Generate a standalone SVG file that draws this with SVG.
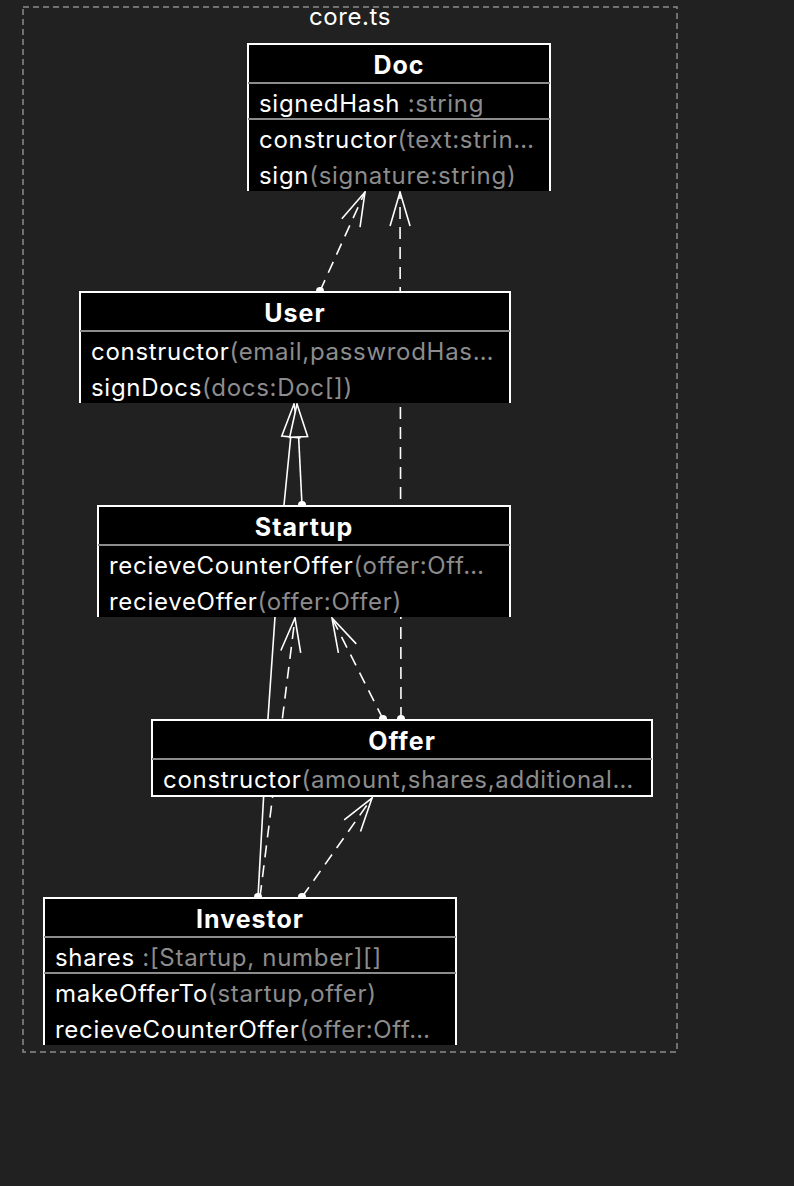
<svg xmlns="http://www.w3.org/2000/svg" width="794" height="1186" viewBox="0 0 794 1186">
<style>
  .bg{fill:#212121}
  .frame{fill:none;stroke:#8c8c8c;stroke-width:1.5;stroke-dasharray:6,4}
  .box{fill:#000}
  .bd{fill:none;stroke:#fff;stroke-width:2}
  .sep{stroke:#8c8c8c;stroke-width:2}
  text{font-family:"Inter","Noto Sans",sans-serif;font-size:24px;letter-spacing:0.7px;fill:#fff}
  .title{font-weight:bold;font-size:25px;letter-spacing:1px;text-anchor:middle}
  .g{fill:#8c8c8c}
  .lbl{font-size:24px;letter-spacing:0.6px;text-anchor:middle}
  .dash{fill:none;stroke:#fff;stroke-width:1.6;stroke-dasharray:12,8}
  .solid{fill:none;stroke:#fff;stroke-width:1.6}
  .dot{fill:#fff}
</style>
<defs>
  <marker id="open" markerUnits="userSpaceOnUse" markerWidth="40" markerHeight="30" viewBox="-36 -15 40 30" refX="0" refY="0" orient="auto">
    <path d="M-34,-10 L0,0 L-34,10" fill="none" stroke="#fff" stroke-width="1.6" stroke-dasharray="none"/>
  </marker>
  <marker id="tri" markerUnits="userSpaceOnUse" markerWidth="40" markerHeight="30" viewBox="-36 -15 40 30" refX="0" refY="0" orient="auto">
    <path d="M-33,-9 L0,0 L-33,9 Z" fill="#212121" stroke="#fff" stroke-width="1.6" stroke-dasharray="none"/>
  </marker>
</defs>
<rect class="bg" x="0" y="0" width="794" height="1186"/>
<rect class="frame" x="23" y="7" width="654" height="1045"/>
<text class="lbl" x="350" y="25">core.ts</text>

<g id="connectors">
  <line class="dash" x1="320" y1="291" x2="365" y2="192" marker-end="url(#open)"/>
  <circle class="dot" cx="320" cy="291" r="4"/>
  <line class="dash" x1="401" y1="719" x2="400" y2="192" marker-end="url(#open)"/>
  <circle class="dot" cx="401" cy="719" r="4"/>
  <line class="dash" x1="383" y1="719" x2="332" y2="618" marker-end="url(#open)"/>
  <circle class="dot" cx="383" cy="719" r="4"/>
  <line class="dash" x1="260" y1="897" x2="295" y2="618" marker-end="url(#open)"/>
  <line class="dash" x1="302" y1="897" x2="372" y2="798" marker-end="url(#open)"/>
  <circle class="dot" cx="302" cy="897" r="4"/>
  <polyline class="solid" points="258,897 268,718 275,617 284,505 294,404" marker-end="url(#tri)"/>
  <circle class="dot" cx="258" cy="897" r="4"/>
  <line class="solid" x1="302" y1="505" x2="297" y2="404" marker-end="url(#tri)"/>
  <circle class="dot" cx="302" cy="505" r="4"/>
</g>

<g id="Doc">
  <rect class="box" x="247" y="43" width="304" height="148"/>
  <path class="bd" d="M248,191 V44 H550 V191"/>
  <line class="sep" x1="248" y1="83" x2="550" y2="83"/>
  <line class="sep" x1="248" y1="119" x2="550" y2="119"/>
  <text class="title" x="399" y="74">Doc</text>
  <text x="259" y="112">signedHash<tspan class="g"> :string</tspan></text>
  <text x="259" y="148">constructor<tspan class="g">(text:strin…</tspan></text>
  <text x="259" y="184">sign<tspan class="g">(signature:string)</tspan></text>
</g>

<g id="User">
  <rect class="box" x="79" y="291" width="432" height="112"/>
  <path class="bd" d="M80,403 V292 H510 V403"/>
  <line class="sep" x1="80" y1="331" x2="510" y2="331"/>
  <text class="title" x="295" y="322">User</text>
  <text x="91" y="360">constructor<tspan class="g">(email,passwrodHas…</tspan></text>
  <text x="91" y="396">signDocs<tspan class="g">(docs:Doc[])</tspan></text>
</g>

<g id="Startup">
  <rect class="box" x="97" y="505" width="414" height="112"/>
  <path class="bd" d="M98,617 V506 H510 V617"/>
  <line class="sep" x1="98" y1="545" x2="510" y2="545"/>
  <text class="title" x="304" y="536">Startup</text>
  <text x="109" y="574">recieveCounterOffer<tspan class="g">(offer:Off…</tspan></text>
  <text x="109" y="610">recieveOffer<tspan class="g">(offer:Offer)</tspan></text>
</g>

<g id="Offer">
  <rect class="box" x="151" y="719" width="502" height="78"/>
  <rect class="bd" x="152" y="720" width="500" height="76"/>
  <line class="sep" x1="152" y1="759" x2="652" y2="759"/>
  <text class="title" x="402" y="750">Offer</text>
  <text x="163" y="788">constructor<tspan class="g">(amount,shares,additional…</tspan></text>
</g>

<g id="Investor">
  <rect class="box" x="43" y="897" width="414" height="148"/>
  <path class="bd" d="M44,1045 V898 H456 V1045"/>
  <line class="sep" x1="44" y1="937" x2="456" y2="937"/>
  <line class="sep" x1="44" y1="973" x2="456" y2="973"/>
  <text class="title" x="250" y="928">Investor</text>
  <text x="55" y="966">shares<tspan class="g"> :[Startup, number][]</tspan></text>
  <text x="55" y="1002">makeOfferTo<tspan class="g">(startup,offer)</tspan></text>
  <text x="55" y="1038">recieveCounterOffer<tspan class="g">(offer:Off…</tspan></text>
</g>
</svg>
